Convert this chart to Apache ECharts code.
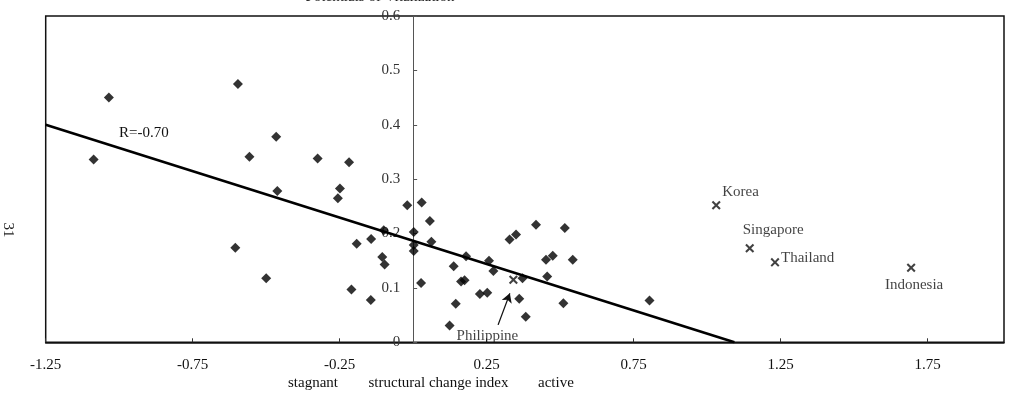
<!DOCTYPE html>
<html><head><meta charset="utf-8">
<script src="https://cdn.jsdelivr.net/npm/echarts@6/dist/echarts.min.js"></script>
<style>html,body{margin:0;padding:0;background:#fff}#c{width:1011px;height:401px}</style>
</head><body><div id="c"></div>
<script>
// ---- data ----
const xTickLabels = ['-1.25', '-0.75', '-0.25', '0.25', '0.75', '1.25', '1.75'];
const yTickLabels = ['0', '0.1', '0.2', '0.3', '0.4', '0.5', '0.6'];

const regionX = [-1.087, -1.035, -0.605, -0.596, -0.557, -0.500, -0.466, -0.462, -0.325, -0.249,
  -0.256, -0.218, -0.210, -0.192, -0.143, -0.144, -0.100, -0.105, -0.097, -0.020,
  0.002, 0.002, 0.002, 0.027, 0.029, 0.057, 0.062, 0.124, 0.138, 0.145,
  0.163, 0.175, 0.180, 0.227, 0.252, 0.258, 0.273, 0.328, 0.350, 0.361,
  0.372, 0.383, 0.418, 0.452, 0.456, 0.475, 0.511, 0.516, 0.543, 0.804];
const regionY = [0.336, 0.450, 0.174, 0.475, 0.341, 0.118, 0.378, 0.278, 0.338, 0.283,
  0.265, 0.331, 0.097, 0.181, 0.190, 0.078, 0.206, 0.157, 0.143, 0.252,
  0.203, 0.179, 0.168, 0.109, 0.257, 0.223, 0.185, 0.031, 0.140, 0.071,
  0.112, 0.114, 0.158, 0.089, 0.091, 0.150, 0.131, 0.189, 0.198, 0.080,
  0.118, 0.047, 0.216, 0.152, 0.121, 0.159, 0.072, 0.210, 0.152, 0.077];

const countryNames = ['Korea', 'Singapore', 'Thailand', 'Indonesia', 'Philippine'];
const countryX = [1.031, 1.145, 1.231, 1.694, 0.341];
const countryY = [0.252, 0.173, 0.147, 0.137, 0.115];

const fitX = [-1.25, 1.093];
const fitY = [0.400, 0.0];
const fitLabel = 'R=-0.70';

const arrowFrom = [0.289, 0.032];
const arrowTo = [0.329, 0.090];

const yTitle = 'Potentials of Vitalization';
const xTitleLeft = 'stagnant';
const xTitleMid = 'structural change index';
const xTitleRight = 'active';
const pageNumber = '31';

// ---- styles ----
const FONT = '"Liberation Serif", "Times New Roman", serif';
const GRID_LEFT = 45.7;
const countryLabelStyle = {
  Korea: { align: 'left', offset: [6, -13] },
  Singapore: { align: 'left', offset: [-7, -18] },
  Thailand: { align: 'left', offset: [6, -4] },
  Indonesia: { align: 'center', offset: [3, 17] },
  Philippine: { align: 'center', offset: [-26, 56] }
};
const crossPath = 'path://M0,1.6L1.6,0L5,3.4L8.4,0L10,1.6L6.6,5L10,8.4L8.4,10L5,6.6L1.6,10L0,8.4L3.4,5Z';

function tickFmt(labels) {
  return function (v) {
    const t = labels.find(s => Math.abs(parseFloat(s) - v) < 1e-6);
    return t === undefined ? '' : t;
  };
}

const chart = echarts.init(document.getElementById('c'), null, { renderer: 'canvas' });
chart.setOption({
  animation: false,
  backgroundColor: '#fff',
  grid: {
    left: GRID_LEFT, right: 7, top: 16, bottom: 58.7,
    show: true, borderColor: '#111', borderWidth: 1.5,
    containLabel: false, outerBoundsMode: 'none'
  },
  xAxis: {
    type: 'value', min: -1.25, max: 2.01, interval: 0.5,
    axisLine: { show: true, onZero: false, lineStyle: { color: '#111', width: 1.5 } },
    axisTick: { show: true, inside: true, length: 4, lineStyle: { color: '#333' } },
    axisLabel: { formatter: tickFmt(xTickLabels), margin: 15, fontFamily: FONT, fontSize: 15, color: '#111', showMaxLabel: false },
    splitLine: { show: false }
  },
  yAxis: {
    type: 'value', min: 0, max: 0.6, interval: 0.1,
    axisLine: { show: true, onZero: false, lineStyle: { color: '#555', width: 1 } },
    axisTick: { show: true, inside: true, length: 4, lineStyle: { color: '#555' } },
    axisLabel: { formatter: tickFmt(yTickLabels), margin: 13, fontFamily: FONT, fontSize: 15, color: '#333' },
    splitLine: { show: false }
  },
  graphic: [
    { type: 'text', x: 380, y: -3, style: { text: yTitle, font: '15px ' + FONT, fill: '#222', align: 'center', verticalAlign: 'middle' } },
    { type: 'text', x: 119, y: 133, style: { text: fitLabel, font: '15px ' + FONT, fill: '#111', align: 'left', verticalAlign: 'middle' } },
    { type: 'text', x: 313, y: 383, style: { text: xTitleLeft, font: '15px ' + FONT, fill: '#111', align: 'center', verticalAlign: 'middle' } },
    { type: 'text', x: 438.5, y: 383, style: { text: xTitleMid, font: '15px ' + FONT, fill: '#111', align: 'center', verticalAlign: 'middle' } },
    { type: 'text', x: 538, y: 383, style: { text: xTitleRight, font: '15px ' + FONT, fill: '#111', align: 'left', verticalAlign: 'middle' } },
    { type: 'text', x: 8, y: 230, rotation: -Math.PI / 2, style: { text: pageNumber, font: '15px ' + FONT, fill: '#222', align: 'center', verticalAlign: 'middle' } }
  ],
  series: [
    {
      type: 'line',
      data: fitX.map((x, i) => [x, fitY[i]]),
      symbol: 'none',
      lineStyle: { color: '#000', width: 2.6 },
      z: 3
    },
    {
      type: 'scatter',
      data: regionX.map((x, i) => [x, regionY[i]]),
      symbol: 'diamond',
      symbolSize: 10,
      itemStyle: { color: '#000' },
      z: 4
    },
    {
      type: 'scatter',
      data: countryNames.map((n, i) => ({
        name: n,
        value: [countryX[i], countryY[i]],
        label: countryLabelStyle[n]
      })),
      symbol: crossPath,
      symbolSize: 9,
      itemStyle: { color: '#111' },
      label: {
        show: true, position: 'inside', formatter: '{b}',
        fontFamily: FONT, fontSize: 15, color: '#111', verticalAlign: 'middle'
      },
      markLine: {
        silent: true,
        symbol: ['none', 'arrow'],
        symbolSize: [8, 9],
        label: { show: false },
        lineStyle: { color: '#111', width: 1.3, type: 'solid' },
        data: [[{ coord: arrowFrom }, { coord: arrowTo }]]
      },
      z: 5
    }
  ]
});
// place the y axis on x = 0, using the x scale
const zeroPx = chart.convertToPixel({ xAxisIndex: 0 }, 0);
chart.setOption({ yAxis: { offset: -(zeroPx - GRID_LEFT) } });
</script>
</body></html>
